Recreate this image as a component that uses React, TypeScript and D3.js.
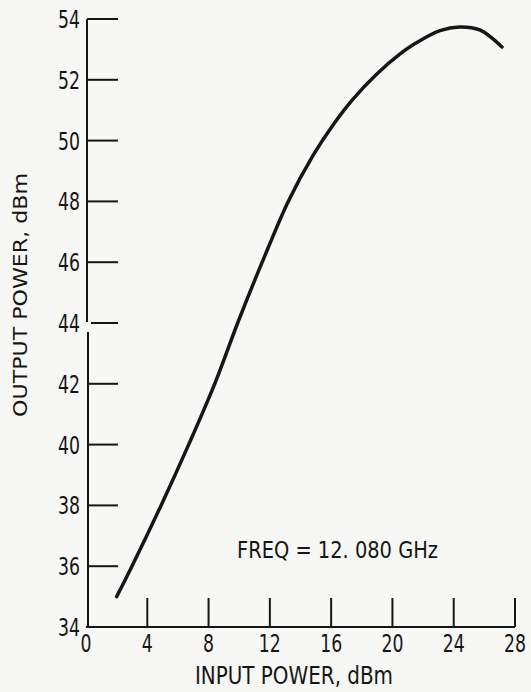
import React from "react";
import * as d3 from "d3";

const inputPower = [2, 3, 4.9, 6.7, 8.4, 9.9, 11.5, 13.2, 14.8, 16.1, 17.4, 19.0, 20.5, 21.5, 23.1, 24.4, 25.7, 27.15];
const outputPower = [35.0, 36.0, 38.0, 40.0, 42.0, 44.0, 46.0, 48.0, 49.5, 50.5, 51.35, 52.2, 52.85, 53.2, 53.62, 53.74, 53.64, 53.08];
const xTicks = [0, 4, 8, 12, 16, 20, 24, 28];
const yTicks = [34, 36, 38, 40, 42, 44, 46, 48, 50, 52, 54];
const xTitle = "INPUT POWER, dBm";
const yTitle = "OUTPUT POWER, dBm";
const note = "FREQ = 12. 080 GHz";

const W = 531;
const H = 692;
const FONT = "'Liberation Sans Narrow', 'DejaVu Sans', sans-serif";
const INK = "#161616";

export default function App() {
  const x = d3.scaleLinear().domain([0, 28]).range([86, 515]);
  const y = d3.scaleLinear().domain([34, 54]).range([627, 19]);
  const pts = inputPower.map((v, i) => [v, outputPower[i]] as [number, number]);
  const line = d3
    .line<[number, number]>()
    .x((d) => x(d[0]))
    .y((d) => y(d[1]))
    .curve(d3.curveCatmullRom.alpha(0.5));

  const axisX = x(0) + 1;
  const gapTop = y(44) - 1;
  const gapBottom = y(44) + 9;
  const digitW = 11;

  return (
    <svg
      width={W}
      height={H}
      style={{ position: "absolute", left: 0, top: 0 }}
      fontFamily={FONT}
      fontStretch="condensed"
    >
      <rect x={0} y={0} width={W} height={H} fill="#f7f7f5" />
      {/* y axis with small break */}
      <line x1={axisX} x2={axisX} y1={y(54)} y2={gapTop} stroke={INK} strokeWidth={2} />
      <line x1={axisX + 1} x2={axisX + 1} y1={gapBottom} y2={y(34)} stroke={INK} strokeWidth={2} />
      {/* x axis */}
      <line x1={x(0)} x2={x(28)} y1={y(34)} y2={y(34)} stroke={INK} strokeWidth={2} />
      {yTicks.map((t) =>
        t === 34 ? null : (
          <line
            key={"yt" + t}
            x1={t === 44 ? axisX + 4 : axisX}
            x2={axisX + 31}
            y1={y(t)}
            y2={y(t)}
            stroke={INK}
            strokeWidth={2}
          />
        )
      )}
      {yTicks.map((t) => (
        <text
          key={"yl" + t}
          x={80}
          y={y(t)}
          dy="0.36em"
          textAnchor="end"
          fontSize={25}
          fill={INK}
          textLength={String(t).length * digitW}
          lengthAdjust="spacingAndGlyphs"
        >
          {t}
        </text>
      ))}
      {xTicks.map((t) =>
        t === 0 ? null : (
          <line
            key={"xt" + t}
            x1={x(t)}
            x2={x(t)}
            y1={y(34)}
            y2={y(34) - 29}
            stroke={INK}
            strokeWidth={2}
          />
        )
      )}
      {xTicks.map((t) => (
        <text
          key={"xl" + t}
          x={x(t)}
          y={652}
          textAnchor="middle"
          fontSize={25}
          fill={INK}
          textLength={String(t).length * digitW}
          lengthAdjust="spacingAndGlyphs"
        >
          {t}
        </text>
      ))}
      <path d={line(pts) ?? ""} fill="none" stroke={INK} strokeWidth={3.5} strokeLinecap="round" />
      <text x={195} y={684} fontSize={25} fill={INK} textLength={198} lengthAdjust="spacingAndGlyphs">
        {xTitle}
      </text>
      <text x={237} y={558} fontSize={23} fill={INK} textLength={201} lengthAdjust="spacingAndGlyphs">
        {note}
      </text>
      <text
        transform="translate(27,295) rotate(-90)"
        textAnchor="middle"
        fontSize={19}
        fill={INK}
        textLength={244}
        lengthAdjust="spacingAndGlyphs"
      >
        {yTitle}
      </text>
    </svg>
  );
}
